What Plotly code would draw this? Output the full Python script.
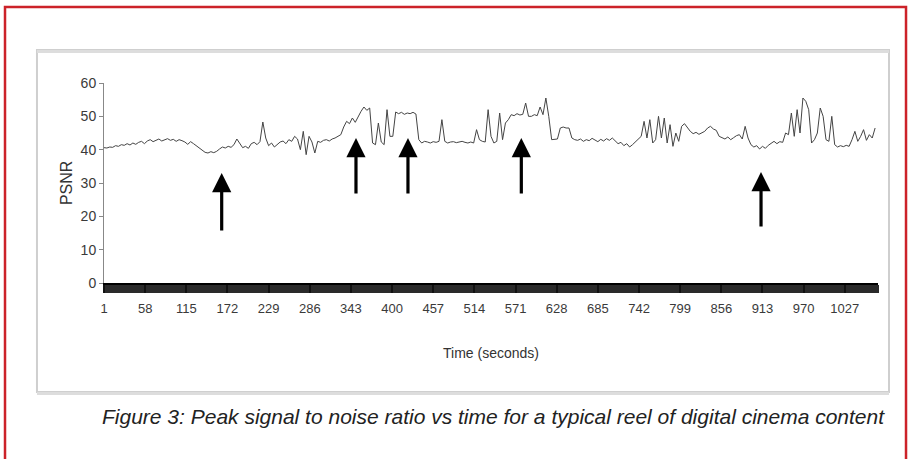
import plotly.graph_objects as go

# PSNR readings (dB), sampled every 4 seconds from t=1
psnr = [
    40.6, 40.5, 40.8, 40.7, 41.2, 41.0, 41.5, 41.3, 41.8, 41.4, 42.0, 41.6, 42.2,
    42.5, 41.8, 42.6, 43.0, 42.4, 42.8, 43.2,
    42.6, 43.0, 43.3, 42.8, 43.1, 42.5, 43.0, 42.7,
    42.3, 41.6, 42.4, 41.8, 41.2, 40.6,
    39.8, 39.2, 39.0, 39.4, 39.1, 39.5,
    40.2, 40.8, 40.5, 41.0, 40.7,
    41.5, 43.2, 41.8, 40.6, 41.0, 40.4, 41.8, 42.2, 41.5, 42.4, 48.3, 43.5,
    41.2, 42.0, 40.8, 41.6, 42.3,
    42.6, 41.8, 43.0, 42.5, 44.0, 43.2,
    40.0, 45.5, 38.5, 44.0,
    42.3, 39.0, 42.5,
    42.2, 42.8, 43.0, 42.6, 43.2, 43.5, 44.0,
    44.5, 46.8,
    48.5, 47.8, 49.5, 48.2, 50.0,
    51.5, 52.8, 51.8, 52.5,
    42.0, 41.5, 48.0, 42.3,
    41.5, 52.0, 44.0,
    44.0, 51.3,
    50.8, 51.2, 50.6, 51.0, 50.8, 51.2, 50.7,
    43.0,
    42.0, 42.5, 42.3, 42.0, 42.4, 42.2, 42.5,
    49.0,
    42.5, 42.0, 42.3, 42.4, 42.1, 42.3, 42.5, 42.2, 42.0, 42.3,
    42.0, 46.0,
    43.0, 42.5, 42.3,
    52.0, 44.0,
    42.0, 42.5,
    51.0, 43.0,
    48.0, 49.0,
    50.5, 50.2, 50.8, 50.4, 50.6,
    54.0, 50.0,
    50.0, 50.5, 50.2, 52.8,
    50.5, 55.5,
    50.0, 43.0,
    43.0, 43.2,
    46.5, 46.8, 46.5, 46.5,
    43.5,
    43.0, 42.8, 43.2, 42.5, 43.0, 42.7, 43.4, 42.9, 42.4, 43.1, 42.6, 43.3, 42.8, 43.5,
    42.5, 41.8, 42.2, 41.2, 41.8, 40.8, 41.5, 42.3, 43.0,
    44.0, 48.5, 43.5, 49.0,
    42.0, 43.0,
    50.0, 43.5, 49.5,
    42.0, 47.5, 41.0, 45.0, 42.5,
    47.0, 47.8, 46.5,
    45.5, 44.8, 45.2, 44.6, 45.0,
    45.5, 46.5, 47.0, 46.2, 45.8,
    44.0, 43.5, 43.2, 43.8, 43.0, 43.6, 44.2,
    44.5, 43.2, 47.0, 43.5,
    41.5, 40.8, 41.2, 40.2, 41.0, 40.4, 41.3,
    42.0, 42.5, 41.8, 42.4, 42.2,
    45.0, 44.5,
    51.0, 44.0,
    52.0, 45.0,
    55.5, 54.5,
    52.0, 42.0, 43.0,
    45.0, 52.5, 50.0,
    43.0, 42.5, 50.0,
    41.5, 40.8, 41.2, 40.9, 41.3, 41.0,
    43.0, 45.5, 42.5, 44.0, 46.0, 42.8, 44.5,
    43.5, 46.5,
]
time_s = list(range(1, 1 + 4 * len(psnr), 4))

x_tick_vals = [1, 58, 115, 172, 229, 286, 343, 400, 457, 514, 571, 628, 685,
               742, 799, 856, 913, 970, 1027]
x_tick_text = [str(v) for v in x_tick_vals]
y_tick_vals = [0, 10, 20, 30, 40, 50, 60]

# arrows marking scene changes
arrow_x = [164, 350, 422, 579, 911]
arrow_tip = [33.0, 43.5, 43.5, 43.5, 33.3]
arrow_tail = [15.3, 26.4, 26.4, 26.4, 16.5]

FONT = "Liberation Sans, Arial, sans-serif"

fig = go.Figure()
fig.add_trace(go.Scatter(x=time_s, y=psnr, mode="lines",
                         line=dict(color="#444444", width=1),
                         hoverinfo="skip", showlegend=False))

annotations = []
for ax_, tip, tail in zip(arrow_x, arrow_tip, arrow_tail):
    annotations.append(dict(x=ax_, y=tip, ax=ax_, ay=tail, xref="x", yref="y",
                            axref="x", ayref="y", showarrow=True, arrowhead=2,
                            arrowsize=1.2, arrowwidth=3.2, arrowcolor="#000000",
                            text=""))

annotations.append(dict(text="Time (seconds)", x=0.5, y=-0.35, xref="paper", yref="paper",
                        showarrow=False, font=dict(family=FONT, size=14, color="#333333"),
                        xanchor="center", yanchor="middle"))
annotations.append(dict(text="PSNR", x=-0.049, y=0.5, xref="paper", yref="paper",
                        textangle=-90, showarrow=False,
                        font=dict(family=FONT, size=16, color="#333333"),
                        xanchor="center", yanchor="middle"))
annotations.append(dict(text="<i>Figure 3: Peak signal to noise ratio vs time for a typical reel of digital cinema content</i>",
                        x=1.0116, y=-0.665, xref="paper", yref="paper", showarrow=False,
                        font=dict(family=FONT, size=21, color="#222222"),
                        xanchor="right", yanchor="middle"))

shapes = [
    # outer red border
    dict(type="rect", xref="paper", yref="paper", x0=-0.1279, x1=1.0362, y0=-0.95, y1=1.38,
         line=dict(color="#cc2229", width=2.5), fillcolor="rgba(0,0,0,0)", layer="below"),
    # chart frame
    dict(type="rect", xref="paper", yref="paper", x0=-0.0866, x1=1.0142, y0=-0.545, y1=1.165,
         line=dict(color="#cfcfcf", width=2), fillcolor="rgba(0,0,0,0)", layer="below"),
    dict(type="line", xref="paper", yref="paper", x0=-0.0866, x1=1.0142, y0=1.158, y1=1.158,
         line=dict(color="#dddddd", width=3), layer="below"),
    dict(type="line", xref="paper", yref="paper", x0=-0.0866, x1=1.0142, y0=-0.552, y1=-0.552,
         line=dict(color="#dddddd", width=3), layer="below"),
]

fig.update_layout(
    width=911, height=459,
    margin=dict(l=104, r=33, t=83, b=176),
    paper_bgcolor="white", plot_bgcolor="white",
    showlegend=False,
    annotations=annotations,
    shapes=shapes,
    xaxis=dict(range=[1, 1073], tickmode="array", tickvals=x_tick_vals, ticktext=x_tick_text,
               showgrid=False, zeroline=False, showline=True, linecolor="#000000", linewidth=2,
               ticks="outside", ticklen=8, tickwidth=2, tickcolor="#111111",
               ticklabelstandoff=4,
               minor=dict(ticks="outside", ticklen=8, tickwidth=1.6, tickcolor="#2a2a2a",
                          tickmode="linear", tick0=1, dtick=2, showgrid=False),
               tickfont=dict(family=FONT, size=13, color="#3a3a3a")),
    yaxis=dict(range=[0, 60], tickmode="array", tickvals=y_tick_vals,
               showgrid=False, zeroline=False, showline=True, linecolor="#888888", linewidth=1,
               ticks="outside", ticklen=4, tickcolor="#888888",
               tickfont=dict(family=FONT, size=14, color="#3a3a3a")),
)

fig.write_html("out.html", config={"displayModeBar": False},
               post_script="document.body.style.margin='0px';")
